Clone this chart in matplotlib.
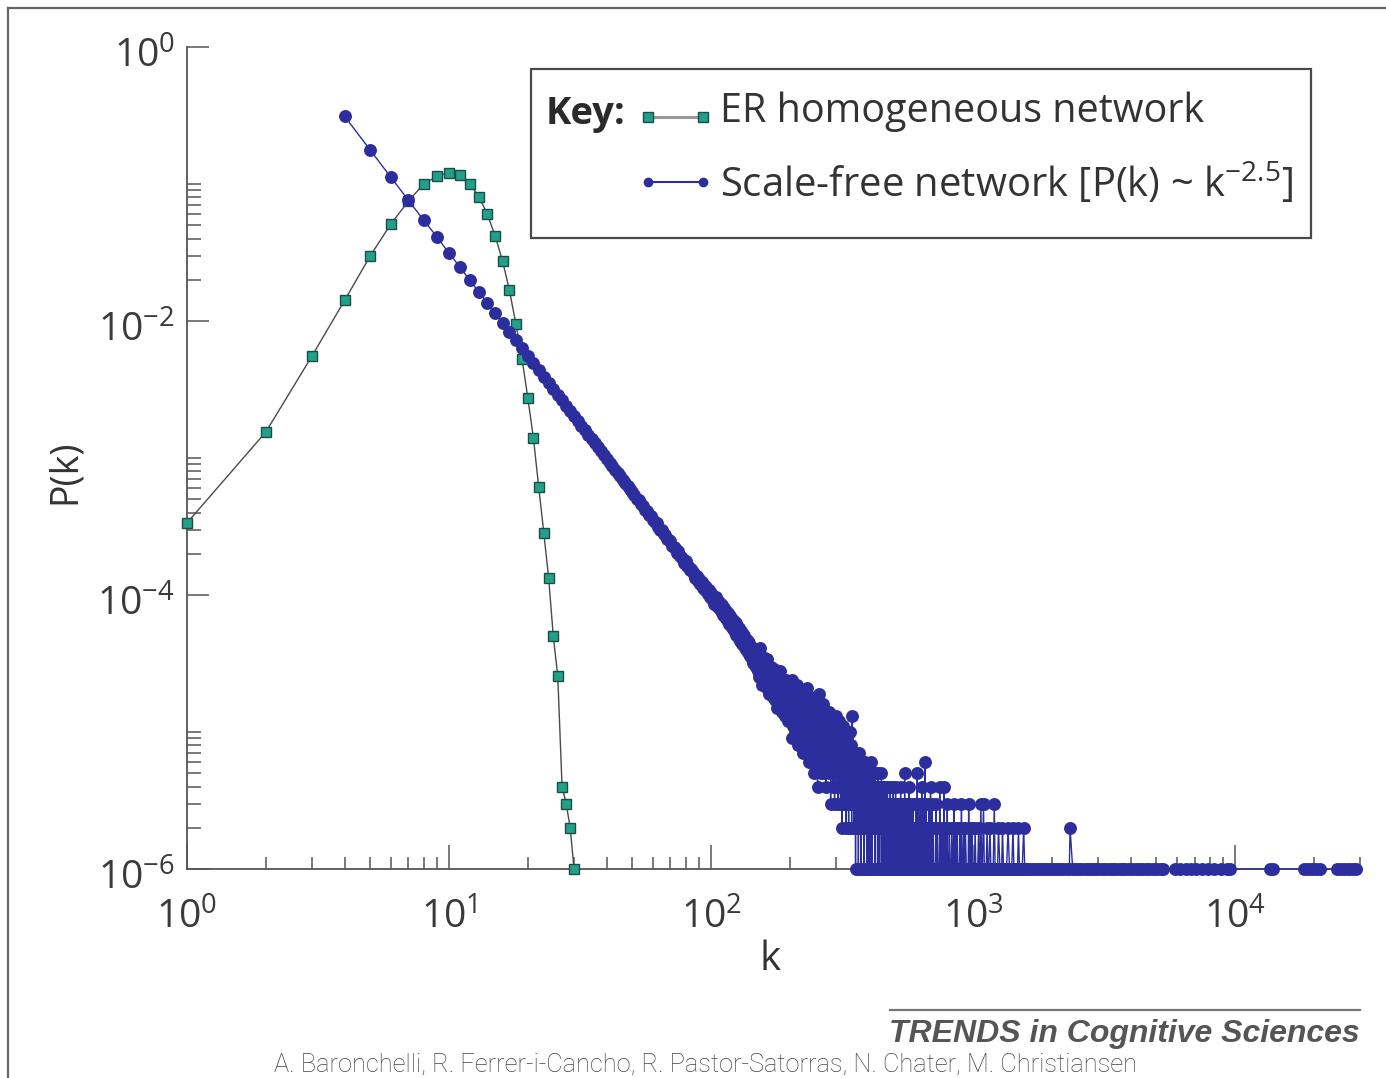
import numpy as np
import matplotlib
matplotlib.use("Agg")
import matplotlib.pyplot as plt
from matplotlib.lines import Line2D
from matplotlib.patches import Rectangle
from matplotlib.transforms import ScaledTranslation
from matplotlib.ticker import FixedLocator, NullFormatter

# ---------------- data ----------------
N_NODES = 1_000_000  # P(k) = count / N_NODES

# ER homogeneous network
er_k = list(range(1, 31))
er_p = [3.36e-4, 1.55e-3, 5.56e-3, 1.42e-2, 2.98e-2, 5.11e-2, 7.5e-2, 0.100,
        0.114, 0.121, 0.116, 0.100, 0.0808, 0.0604, 0.0417, 0.0275, 0.0168,
        0.0095, 0.00528, 0.00272, 0.00139, 6.1e-4, 2.84e-4, 1.33e-4, 5.0e-5,
        2.56e-5, 4e-6, 3e-6, 2e-6, 1e-6]

# Scale-free network: node counts for consecutive k starting at k = 4
sf_k_start = 4
sf_counts = [
    # k = 4 .. 99
    311000, 177000, 112000, 76000, 54500, 41000, 31300, 24800, 19800, 16300,
    13600, 11400, 9700, 8350, 7240, 6320, 5560, 4920, 4380, 3920,
    3530, 3180, 2890, 2630, 2400, 2200, 2020, 1860, 1720, 1590,
    1480, 1370, 1280, 1195, 1120, 1050, 983, 925, 868, 823,
    772, 735, 690, 660, 620, 595, 560, 540, 505, 490,
    460, 447, 420, 410, 383, 376, 352, 343, 333, 312,
    300, 296, 277, 272, 256, 252, 247, 229, 224, 219,
    203, 208, 192, 188, 183, 172, 177, 162, 164, 152,
    155, 146, 143, 133, 138, 127, 131, 121, 125, 112,
    118, 109, 114, 101, 108, 97,
    # k = 100 .. 149
    104, 93, 99, 86, 96, 83, 91, 81, 88, 77,
    84, 71, 80, 69, 76, 66, 74, 61, 70, 59,
    67, 56, 65, 54, 62, 51, 59, 49, 57, 46,
    55, 44, 52, 43, 50, 41, 48, 39, 46, 37,
    45, 36, 42, 34, 41, 32, 39, 31, 37, 30,
    # k = 150 .. 199
    38, 28, 33, 25, 41, 27, 30, 22, 35, 26,
    31, 23, 27, 34, 21, 26, 29, 19, 24, 30,
    22, 27, 18, 25, 29, 17, 23, 20, 26, 15,
    24, 18, 21, 28, 16, 20, 14, 23, 19, 17,
    21, 13, 18, 24, 15, 17, 12, 19, 14, 16,
    # k = 200 .. 299
    22, 13, 18, 9, 24, 15, 11, 20, 14, 17,
    10, 19, 13, 22, 8, 16, 12, 18, 11, 15,
    20, 9, 14, 17, 7, 13, 19, 10, 15, 12,
    8, 16, 11, 21, 9, 13, 6, 15, 12, 18,
    10, 7, 14, 11, 17, 8, 12, 5, 13, 16,
    9, 12, 6, 15, 10, 4, 13, 8, 11, 19,
    7, 10, 5, 14, 9, 12, 6, 11, 16, 8,
    10, 5, 13, 7, 9, 4, 12, 8, 6, 11,
    7, 14, 5, 9, 6, 10, 3, 8, 12, 6,
    9, 4, 7, 11, 5, 8, 3, 10, 6, 13,
    # k = 300 .. 399
    9, 4, 7, 11, 5, 3, 8, 6, 12, 4,
    7, 10, 3, 6, 9, 5, 2, 8, 4, 11,
    5, 8, 3, 6, 10, 4, 7, 2, 5, 9,
    4, 6, 3, 8, 5, 2, 7, 4, 10, 3,
    6, 3, 5, 8, 2, 13, 4, 6, 3, 7,
    5, 2, 4, 7, 3, 5, 1, 6, 4, 3,
    2, 6, 4, 3, 5, 1, 4, 7, 2, 4,
    3, 5, 2, 4, 1, 6, 3, 2, 5, 3,
    4, 2, 5, 3, 1, 4, 2, 6, 3, 2,
    3, 5, 2, 1, 4, 3, 2, 5, 1, 3,
    # k = 400 .. 499
    3, 4, 2, 5, 3, 1, 4, 2, 3, 6, 2, 3, 1, 4, 2, 5, 3, 0, 2, 4,
    3, 2, 5, 1, 3, 4, 2, 3, 0, 4, 2, 3, 1, 5, 2, 3, 1, 4, 2, 3,
    1, 3, 4, 2, 0, 3, 2, 5, 1, 2, 3, 1, 4, 2, 3, 0, 2, 3, 1, 4,
    2, 3, 1, 2, 4, 1, 3, 0, 2, 3, 1, 4, 2, 1, 3, 2, 0, 3, 1, 2,
    3, 1, 2, 4, 1, 2, 0, 3, 2, 1, 2, 3, 1, 2, 0, 4, 1, 2, 3, 1,
    # k = 500 .. 599
    2, 1, 3, 0, 2, 1, 4, 2, 1, 0, 3, 1, 2, 1, 0, 2, 3, 1, 2, 0,
    1, 2, 0, 3, 1, 2, 1, 0, 2, 4, 1, 0, 2, 1, 3, 0, 1, 2, 1, 0,
    2, 1, 0, 3, 1, 2, 0, 1, 5, 1, 0, 2, 1, 0, 3, 1, 0, 2, 1, 1,
    0, 2, 1, 3, 0, 1, 2, 0, 1, 4, 1, 0, 2, 1, 0, 3, 1, 0, 2, 1,
    1, 0, 3, 1, 0, 2, 1, 0, 1, 2, 0, 3, 1, 0, 2, 1, 0, 1, 2, 0,
    # k = 600 .. 699
    1, 2, 0, 1, 3, 0, 1, 0, 2, 1, 0, 1, 5, 0, 2, 1, 0, 1, 3, 0,
    2, 0, 1, 0, 1, 2, 0, 1, 0, 3, 1, 0, 2, 0, 1, 0, 1, 4, 0, 1,
    0, 2, 0, 1, 0, 1, 3, 0, 1, 0, 2, 0, 1, 0, 0, 6, 1, 0, 2, 0,
    1, 0, 3, 0, 1, 0, 0, 2, 1, 0, 1, 0, 2, 0, 0, 1, 0, 3, 0, 1,
    0, 2, 0, 1, 0, 0, 1, 0, 4, 0, 1, 0, 0, 2, 0, 1, 0, 0, 3, 1,
]

# Scale-free tail (k >= 700): degrees seen more than once
sf_tail_k = [705, 722, 731, 746, 762, 775, 784, 797, 812, 830, 845, 858,
             869, 890, 903, 921, 934, 962, 975, 990, 1018, 1050, 1071, 1096,
             1131, 1160, 1205, 1250, 1295, 1360, 1420, 1490, 1560, 2345]
sf_tail_c = [2, 3, 2, 4, 2, 4, 2, 3, 2, 2, 3, 2,
             2, 2, 3, 2, 2, 3, 2, 2, 2, 2, 3, 3,
             2, 2, 3, 2, 2, 2, 2, 2, 2, 2]

# Scale-free tail (k >= 700): degrees seen exactly once
sf_single_k = [703, 707, 711, 714, 718, 724, 727, 735, 741, 744, 750, 754, 758,
               766, 771, 779, 787, 790, 794, 800, 804, 808, 817, 821, 825, 836,
               841, 848, 852, 864, 872, 878, 884, 893, 897, 908, 915, 928, 943,
               953, 958, 967, 981, 986, 996, 1004, 1012, 1025, 1033, 1041, 1056,
               1062, 1078, 1085, 1104, 1112, 1122, 1139, 1148, 1170, 1183, 1193,
               1214, 1226, 1240, 1266, 1276, 1285, 1307, 1318, 1330, 1342, 1377,
               1390, 1405, 1432, 1455, 1478, 1503, 1520, 1540, 1575, 1590, 1612,
               1650, 1695, 1742, 1790, 1834, 1880, 1935, 1990, 2040, 2096, 2150,
               2210, 2280, 2330, 2400, 2470, 2530, 2610, 2690, 2770, 2840, 2930,
               3010, 3100, 3190, 3290, 3380, 3480, 3590, 3700, 3810, 3930, 4050,
               4170, 4300, 4430, 4560, 4700, 4850, 5000, 5160, 5290,
               5900, 6150, 6500, 6800, 7100, 7500, 7900, 8300, 8800, 9300, 9600,
               13600, 14000,
               18400, 19000, 19600, 20300, 21000,
               24500, 25400, 26200, 27300, 28300, 29000]

x_tick_vals = [1, 10, 100, 1000, 10000]
x_tick_labels = [r"$\mathregular{10^{0}}$", r"$\mathregular{10^{1}}$",
                 r"$\mathregular{10^{2}}$", r"$\mathregular{10^{3}}$",
                 r"$\mathregular{10^{4}}$"]
y_tick_vals = [1e0, 1e-2, 1e-4, 1e-6]
y_tick_labels = [r"$\mathregular{10^{0}}$", r"$\mathregular{10^{-2}}$",
                 r"$\mathregular{10^{-4}}$", r"$\mathregular{10^{-6}}$"]

legend_labels = ["ER homogeneous network",
                 r"Scale-free network [P(k) ~ k$^{\mathregular{-2.5}}$]"]
x_label = "k"
y_label = "P(k)"
journal_text = "TRENDS in Cognitive Sciences"
author_text = ("A. Baronchelli, R. Ferrer-i-Cancho, R. Pastor-Satorras, "
               "N. Chater, M. Christiansen")

# ---------------- assemble SF series ----------------
k_all = list(range(sf_k_start, sf_k_start + len(sf_counts))) + sf_tail_k + sf_single_k
c_all = sf_counts + sf_tail_c + [1] * len(sf_single_k)
pairs = sorted((k, c) for k, c in zip(k_all, c_all) if c > 0)
sf_k = np.array([p[0] for p in pairs], dtype=float)
sf_p = np.array([p[1] for p in pairs], dtype=float) / N_NODES

# ---------------- figure ----------------
W, H = 1386, 1078
def fx(x):
    return x / W
def fy(y):
    return 1 - y / H

fig = plt.figure(figsize=(W / 100, H / 100), dpi=100)
fig.patch.set_facecolor("white")

AX_L, AX_R, AX_T, AX_B = 187, 1362, 47, 869
ax = fig.add_axes([fx(AX_L), fy(AX_B), (AX_R - AX_L) / W, (AX_B - AX_T) / H])
ax.set_xscale("log")
ax.set_yscale("log")
ax.set_xlim(1, 3.05e4)
ax.set_ylim(1e-6, 1)

GRAY = "#555555"
BLUE = "#2b2e9c"
TEAL = "#22a08a"
TEAL_EDGE = "#1b4d47"
LABEL_C = "#3a3a3a"

ax.plot(er_k, er_p, color="#4a4a4a", lw=1.0, marker="s", ms=7.4,
        mfc=TEAL, mec=TEAL_EDGE, mew=1.0, clip_on=False, zorder=3)
ax.plot(sf_k, sf_p, color=BLUE, lw=1.0, marker="o", ms=9.3,
        mfc=BLUE, mec=BLUE, mew=0, clip_on=False, zorder=4)

for s in ["top", "right"]:
    ax.spines[s].set_visible(False)
for s in ["left", "bottom"]:
    ax.spines[s].set_color(GRAY)
    ax.spines[s].set_linewidth(1.3)

ax.xaxis.set_major_locator(FixedLocator(x_tick_vals))
ax.xaxis.set_major_formatter(NullFormatter())
x_minor = [m * 10.0 ** e for e in range(0, 5) for m in range(2, 10) if m * 10.0 ** e <= 3.05e4]
ax.xaxis.set_minor_locator(FixedLocator(x_minor))
ax.xaxis.set_minor_formatter(NullFormatter())

ax.yaxis.set_major_locator(FixedLocator(y_tick_vals))
ax.yaxis.set_major_formatter(NullFormatter())
y_minor = [m * 10.0 ** e for e in (-6, -4, -2) for m in range(2, 11)]
ax.yaxis.set_minor_locator(FixedLocator(y_minor))
ax.yaxis.set_minor_formatter(NullFormatter())

ax.tick_params(axis="both", which="both", direction="in", color=GRAY, width=1.1)
ax.tick_params(axis="x", which="major", length=17)
ax.tick_params(axis="y", which="major", length=16)
ax.tick_params(axis="x", which="minor", length=9)
ax.tick_params(axis="y", which="minor", length=10)

# tick labels, placed at the tick values
dpi_tr = fig.dpi_scale_trans
for v, lab in zip(x_tick_vals, x_tick_labels):
    ax.text(v, 0, lab, transform=ax.get_xaxis_transform() + ScaledTranslation(0.0, -0.60, dpi_tr),
            ha="center", va="baseline", fontsize=28, color=LABEL_C, family="Open Sans")
for v, lab in zip(y_tick_vals, y_tick_labels):
    ax.text(0, v, lab, transform=ax.get_yaxis_transform() + ScaledTranslation(-0.12, -0.21, dpi_tr),
            ha="right", va="baseline", fontsize=28, color=LABEL_C, family="Open Sans")

fig.text(fx(65), fy(472), y_label, rotation=90, ha="center", va="center",
         fontsize=27, color="#333333", family="Open Sans")
fig.text(fx(770), fy(960), x_label, ha="center", va="center",
         fontsize=29, color="#333333", family="Open Sans")

# ---------------- legend box ----------------
renderer = fig.canvas.get_renderer()
def fit_width(t, target):
    w = t.get_window_extent(renderer).width
    t.set_fontsize(t.get_fontsize() * target / w)

fig.add_artist(Rectangle((fx(531), fy(238)), (1311 - 531) / W, (238 - 69) / H,
                         transform=fig.transFigure, fill=False, ec="#4a4a4a", lw=1.6))
t = fig.text(fx(546), fy(114), "Key:", ha="left", va="center", fontsize=24,
             fontweight="bold", color="#2a2a2a", family="Open Sans")
fit_width(t, 80)
fig.add_artist(Line2D([fx(648), fx(703)], [fy(117), fy(117)], transform=fig.transFigure,
                      color="#999999", lw=2.2, marker="s", ms=7, mfc=TEAL, mec=TEAL_EDGE,
                      mew=1.0))
fig.add_artist(Line2D([fx(648), fx(703)], [fy(182), fy(182)], transform=fig.transFigure,
                      color=BLUE, lw=1.5, marker="o", ms=7, mfc=BLUE, mec=BLUE, mew=0))
t1 = fig.text(fx(720), fy(112), legend_labels[0], ha="left", va="center", fontsize=24,
              color="#333333", family="Open Sans")
fit_width(t1, 485)
t2 = fig.text(fx(720), fy(184), legend_labels[1], ha="left", va="center", fontsize=24,
              color="#333333", family="Open Sans")
fit_width(t2, 575)

# ---------------- footer ----------------
fig.add_artist(Line2D([fx(890), fx(1360)], [fy(1010), fy(1010)], transform=fig.transFigure,
                      color="#777777", lw=1.6))
tj = fig.text(fx(1360), fy(1034), journal_text, ha="right", va="center", fontsize=20,
              fontweight="bold", fontstyle="italic", color="#555555", family="Liberation Sans")
fit_width(tj, 470)
ta = fig.text(fx(706), fy(1065), author_text, ha="center", va="center", fontsize=16,
              color="#444444", family="Roboto", fontweight="light")
fit_width(ta, 868)

# figure frame (top and left edges)
fig.add_artist(Line2D([fx(8), fx(W)], [fy(8), fy(8)], transform=fig.transFigure,
                      color="#666666", lw=1.6))
fig.add_artist(Line2D([fx(8), fx(8)], [fy(8), fy(H)], transform=fig.transFigure,
                      color="#666666", lw=1.6))

fig.savefig("out.png", dpi=100, facecolor="white")
